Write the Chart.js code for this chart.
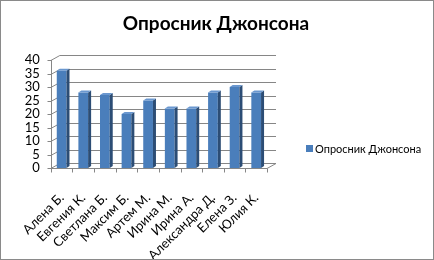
<!DOCTYPE html>
<html>
<head>
<meta charset="utf-8">
<script src="https://cdn.jsdelivr.net/npm/chart.js@4"></script>
<style>
  body { margin: 0; background: #fff; }
  #wrap { position: absolute; left: 0; top: 0; width: 432px; height: 258px; border: 1px solid #8a8a8a; }
</style>
</head>
<body>
<div id="wrap"><canvas id="chart" width="432" height="258"></canvas></div>
<script>
const chartTitle = 'Опросник Джонсона';
const seriesName = 'Опросник Джонсона';
const names = ['Алена Б.', 'Евгения К.', 'Светлана Б.', 'Максим Б.', 'Артем М.', 'Ирина М.', 'Ирина А.', 'Александра Д.', 'Елена З.', 'Юлия К.'];
const scores = [36, 28, 27, 20, 25, 22, 22, 28, 30, 28];
const yTicks = [0, 5, 10, 15, 20, 25, 30, 35, 40];

const FONT = 'Lato, "Open Sans", sans-serif';
const DX = 9, DY = -5;   // depth of the back wall

// back wall, floor, axis lines and tick marks
const wallPlugin = {
    id: 'wall',
    beforeDatasetsDraw(chart) {
        const { ctx, chartArea: a, scales } = chart;
        const y = scales.y;
        ctx.save();
        ctx.strokeStyle = '#868686';
        ctx.lineWidth = 1;
        yTicks.forEach(v => {
            const py = Math.round(y.getPixelForValue(v)) + 0.5;
            ctx.beginPath();
            ctx.moveTo(a.left, py);
            ctx.lineTo(a.left + DX, py + DY);
            ctx.lineTo(a.right + DX, py + DY);
            ctx.stroke();
        });
        // floor
        const by = Math.round(a.bottom) + 0.5;
        ctx.beginPath();
        ctx.moveTo(a.left, by);
        ctx.lineTo(a.right, by);
        ctx.lineTo(a.right + DX, by + DY);
        ctx.stroke();
        // y axis
        const lx = Math.round(a.left) + 0.5;
        ctx.beginPath();
        ctx.moveTo(lx, a.top);
        ctx.lineTo(lx, by);
        ctx.stroke();
        // tick marks
        yTicks.forEach(v => {
            const py = Math.round(y.getPixelForValue(v)) + 0.5;
            ctx.beginPath();
            ctx.moveTo(lx - 4, py);
            ctx.lineTo(lx, py);
            ctx.stroke();
        });
        const step = (a.right - a.left) / names.length;
        for (let i = 0; i <= names.length; i++) {
            const px = Math.round(a.left + step * i) + 0.5;
            ctx.beginPath();
            ctx.moveTo(px, by);
            ctx.lineTo(px, by + 4);
            ctx.stroke();
        }
        ctx.restore();
    },
    afterDatasetsDraw(chart) {
        const { ctx } = chart;
        const meta = chart.getDatasetMeta(0);
        ctx.save();
        meta.data.forEach(bar => {
            const { x, y, base, width } = bar.getProps(['x', 'y', 'base', 'width'], true);
            const r = x + width / 2, l = x - width / 2;
            // side
            ctx.fillStyle = '#2c4d75';
            ctx.beginPath();
            ctx.moveTo(r, y);
            ctx.lineTo(r + 3, y - 2);
            ctx.lineTo(r + 3, base - 2);
            ctx.lineTo(r, base);
            ctx.closePath();
            ctx.fill();
            // top
            ctx.fillStyle = '#6a97cf';
            ctx.beginPath();
            ctx.moveTo(l, y);
            ctx.lineTo(l + 3, y - 2);
            ctx.lineTo(r + 3, y - 2);
            ctx.lineTo(r, y);
            ctx.closePath();
            ctx.fill();
        });
        ctx.restore();
    },
    afterDraw(chart) {
        const { ctx } = chart;
        ctx.save();
        ctx.fillStyle = '#000';
        ctx.textAlign = 'center';
        ctx.textBaseline = 'alphabetic';
        ctx.font = 'bold 19px ' + FONT;
        ctx.fillText(chartTitle, 215, 29);
        // legend
        ctx.fillStyle = '#4a7ebb';
        ctx.fillRect(305, 144, 7, 7);
        ctx.fillStyle = '#000';
        ctx.textAlign = 'left';
        ctx.font = '11px ' + FONT;
        ctx.fillText(seriesName, 314, 152);
        ctx.restore();
    }
};

new Chart(document.getElementById('chart'), {
    type: 'bar',
    data: {
        labels: names,
        datasets: [{
            label: seriesName,
            data: scores,
            backgroundColor: '#4a7ebb',
            borderWidth: 0,
            barPercentage: 0.45,
            categoryPercentage: 1
        }]
    },
    options: {
        responsive: false,
        animation: false,
        layout: { padding: { top: 59, right: 166, left: 0, bottom: 0 } },
        scales: {
            x: {
                grid: { display: false, drawTicks: false },
                border: { display: false },
                ticks: { color: '#000', font: { family: FONT, size: 13 }, minRotation: 45, maxRotation: 45, padding: 22, autoSkip: false },
                afterFit: s => { s.height = 91; }
            },
            y: {
                min: 0, max: 40,
                grid: { display: false, drawTicks: false },
                border: { display: false },
                ticks: { stepSize: 5, color: '#000', font: { family: FONT, size: 13 }, padding: 11, autoSkip: false },
                afterFit: s => { s.width = 43; }
            }
        },
        plugins: { legend: { display: false }, title: { display: false }, tooltip: { enabled: false } }
    },
    plugins: [wallPlugin]
});
</script>
</body>
</html>
